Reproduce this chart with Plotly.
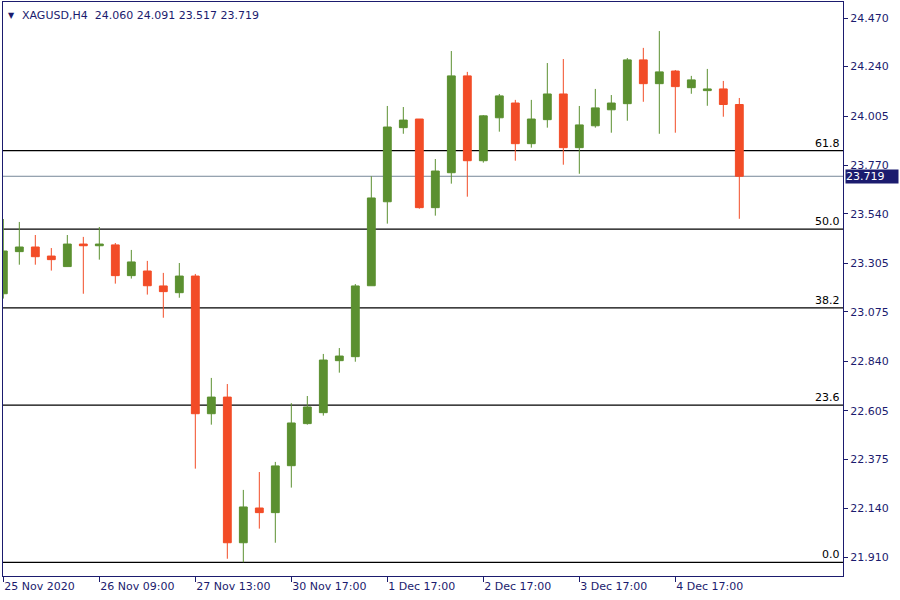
import plotly.graph_objects as go

# ---- data (H4 candles, XAGUSD) ----
idx = list(range(47))
opens = [23.161, 23.361, 23.383, 23.340, 23.290, 23.397, 23.389, 23.393, 23.247, 23.269,
         23.198, 23.166, 23.245, 22.591, 22.670, 21.978, 22.143, 22.121, 22.344, 22.544,
         22.596, 22.843, 22.862, 23.199, 23.598, 23.950, 23.991, 23.570, 23.736, 24.196,
         23.793, 23.997, 24.067, 23.874, 23.988, 24.110, 23.855, 23.959, 24.035, 24.064,
         24.272, 24.159, 24.219, 24.140, 24.126, 24.134, 24.060]
highs = [23.516, 23.502, 23.440, 23.378, 23.440, 23.431, 23.478, 23.402, 23.369, 23.317,
         23.260, 23.307, 23.255, 22.761, 22.732, 22.229, 22.314, 22.362, 22.641, 22.675,
         22.875, 22.903, 23.207, 23.719, 24.053, 24.048, 23.991, 23.801, 24.314, 24.215,
         24.010, 24.110, 24.082, 24.082, 24.257, 24.276, 24.053, 24.134, 24.105, 24.281,
         24.329, 24.409, 24.224, 24.196, 24.229, 24.172, 24.091]
lows = [23.138, 23.299, 23.299, 23.271, 23.290, 23.161, 23.323, 23.209, 23.233, 23.157,
        23.047, 23.142, 22.330, 22.539, 21.902, 21.885, 22.045, 21.978, 22.240, 22.539,
        22.582, 22.786, 22.838, 23.199, 23.494, 23.921, 23.565, 23.532, 23.684, 23.622,
        23.784, 23.931, 23.793, 23.855, 23.950, 23.774, 23.731, 23.950, 23.926, 23.983,
        24.073, 23.921, 23.926, 24.111, 24.054, 24.002, 23.517]
closes = [23.364, 23.383, 23.337, 23.323, 23.397, 23.389, 23.397, 23.247, 23.312, 23.199,
          23.171, 23.245, 22.591, 22.670, 21.978, 22.148, 22.121, 22.343, 22.547, 22.623,
          22.846, 22.865, 23.198, 23.616, 23.953, 23.986, 23.570, 23.744, 24.196, 23.793,
          24.006, 24.101, 23.874, 23.991, 24.110, 23.855, 23.963, 24.044, 24.067, 24.272,
          24.159, 24.215, 24.145, 24.177, 24.134, 24.060, 23.719]

date_tick_idx = [0, 6, 12, 18, 24, 30, 36, 42]
date_tick_text = ["25 Nov 2020", "26 Nov 09:00", "27 Nov 13:00", "30 Nov 17:00",
                  "1 Dec 17:00", "2 Dec 17:00", "3 Dec 17:00", "4 Dec 17:00"]
price_ticks = [24.470, 24.240, 24.005, 23.770, 23.540, 23.305, 23.075,
               22.840, 22.605, 22.375, 22.140, 21.910]

fib_low = 21.885
fib_high = 25.05
fib_levels = [0.0, 23.6, 38.2, 50.0, 61.8]
current_price = 23.719
symbol_title = "XAGUSD,H4"

NAVY = "#1b1b6e"
GREEN = "#5b9030"
RED = "#f24c27"
FONT = "DejaVu Sans"

fig = go.Figure()
fig.add_trace(go.Candlestick(
    x=idx, open=opens, high=highs, low=lows, close=closes,
    increasing=dict(line=dict(color=GREEN, width=1), fillcolor=GREEN),
    decreasing=dict(line=dict(color=RED, width=1), fillcolor=RED),
    whiskerwidth=0, showlegend=False, hoverinfo="skip",
))

shapes = []
annotations = []
for lv in fib_levels:
    price = fib_low + (fib_high - fib_low) * lv / 100.0
    shapes.append(dict(type="line", xref="paper", x0=0, x1=1, yref="y", y0=price, y1=price,
                       line=dict(color="black", width=1.3), layer="below"))
    annotations.append(dict(xref="paper", x=1, xanchor="right", xshift=-1,
                            yref="y", y=price, yanchor="bottom", yshift=-1,
                            text=f"{lv:.1f}", showarrow=False,
                            font=dict(family=FONT, size=11, color="black")))

shapes.append(dict(type="line", xref="paper", x0=0, x1=1, yref="y",
                   y0=current_price, y1=current_price,
                   line=dict(color="#778899", width=1), layer="below"))
annotations.append(dict(xref="paper", x=1, xanchor="left", xshift=2,
                        yref="y", y=current_price, yanchor="middle",
                        text=f"{current_price:.3f}", showarrow=False,
                        bgcolor=NAVY, borderpad=0, width=52, align="left",
                        font=dict(family=FONT, size=11, color="white")))

# title: small triangle + symbol + OHLC of last bar
annotations.append(dict(xref="paper", x=0, xanchor="left", xshift=3,
                        yref="paper", y=1, yanchor="top", yshift=-7,
                        text="▼", showarrow=False,
                        font=dict(family=FONT, size=8, color=NAVY)))
annotations.append(dict(xref="paper", x=0, xanchor="left", xshift=17,
                        yref="paper", y=1, yanchor="top", yshift=-5,
                        text=(f"{symbol_title}\u00a0\u00a0"
                              f"{opens[-1]:.3f}\u00a0{highs[-1]:.3f}\u00a0{lows[-1]:.3f}\u00a0{closes[-1]:.3f}"),
                        showarrow=False, font=dict(family=FONT, size=11, color=NAVY)))

fig.update_layout(
    width=900, height=600,
    margin=dict(l=3, r=57, t=2, b=24),
    paper_bgcolor="white", plot_bgcolor="white",
    shapes=shapes, annotations=annotations,
    xaxis=dict(range=[-0.02, 52.48], rangeslider=dict(visible=False),
               showgrid=False, zeroline=False,
               showline=True, mirror=True, linecolor=NAVY, linewidth=1,
               tickmode="array", tickvals=date_tick_idx, ticktext=date_tick_text,
               ticks="outside", ticklen=5, tickcolor=NAVY,
               ticklabelposition="outside right",
               tickfont=dict(family=FONT, size=11, color=NAVY)),
    yaxis=dict(range=[21.820, 24.547], side="right",
               showgrid=False, zeroline=False,
               showline=True, mirror=True, linecolor=NAVY, linewidth=1,
               tickmode="array", tickvals=price_ticks, tickformat=".3f",
               ticks="outside", ticklen=4, tickcolor=NAVY,
               tickfont=dict(family=FONT, size=11, color=NAVY)),
)

fig.write_html("out.html", config={"displayModeBar": False},
               post_script="document.body.style.margin='0';document.body.style.overflow='hidden';")
